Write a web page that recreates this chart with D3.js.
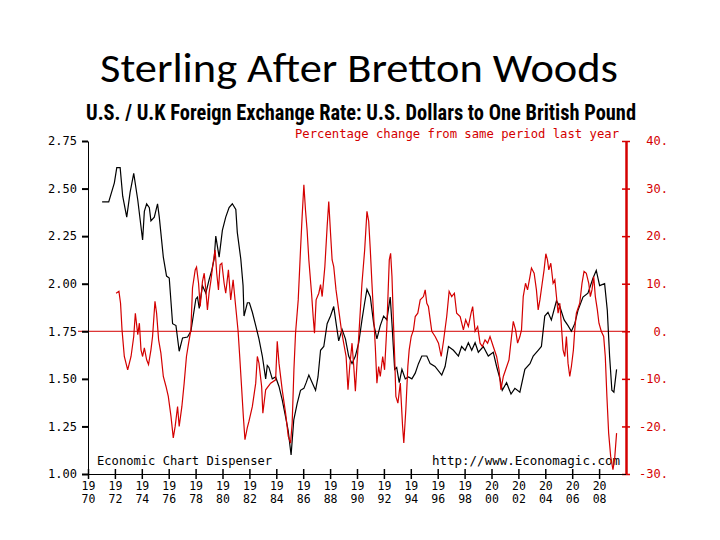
<!DOCTYPE html>
<html>
<head>
<meta charset="utf-8">
<script src="https://cdn.jsdelivr.net/npm/d3@7.9.0/dist/d3.min.js"></script>
<style>
  body { margin: 0; background: #fff; }
  svg { display: block; }
  .mono { font-family: "DejaVu Sans Mono", "Liberation Mono", monospace; }
</style>
</head>
<body>
<svg id="chart" width="720" height="540"></svg>
<script>
// exchange rate, US dollars per pound (left axis)
const rateData = [
  [1971.05, 2.43], [1971.54, 2.43], [1971.96, 2.53], [1972.14, 2.61], [1972.39, 2.61],
  [1972.58, 2.46], [1972.88, 2.35], [1973.13, 2.48], [1973.40, 2.58], [1973.70, 2.44],
  [1974.06, 2.23], [1974.19, 2.38], [1974.36, 2.42], [1974.56, 2.40], [1974.68, 2.33],
  [1974.93, 2.35], [1975.17, 2.42], [1975.30, 2.35], [1975.60, 2.14], [1975.84, 2.04],
  [1976.04, 2.03], [1976.29, 1.79], [1976.54, 1.78], [1976.78, 1.645], [1977.03, 1.715],
  [1977.40, 1.72], [1977.65, 1.75], [1978.02, 1.92], [1978.14, 1.93], [1978.27, 1.87],
  [1978.51, 1.99], [1978.76, 1.95], [1979.00, 2.02], [1979.20, 2.07], [1979.38, 2.13],
  [1979.50, 2.25], [1979.75, 2.14], [1979.99, 2.28], [1980.24, 2.35], [1980.49, 2.40],
  [1980.73, 2.42], [1980.99, 2.39], [1981.10, 2.27], [1981.36, 2.13], [1981.53, 1.99],
  [1981.60, 1.83], [1981.85, 1.90], [1982.00, 1.90], [1982.22, 1.85], [1982.47, 1.78],
  [1982.71, 1.71], [1982.96, 1.62], [1983.21, 1.50], [1983.33, 1.57], [1983.45, 1.56],
  [1983.70, 1.50], [1983.95, 1.51], [1984.20, 1.46], [1984.44, 1.39], [1984.69, 1.30],
  [1984.88, 1.23], [1985.10, 1.10], [1985.30, 1.285], [1985.55, 1.37], [1985.80, 1.44],
  [1986.05, 1.45], [1986.22, 1.48], [1986.42, 1.52], [1986.67, 1.48], [1986.92, 1.44],
  [1987.10, 1.51], [1987.29, 1.65], [1987.53, 1.67], [1987.78, 1.79], [1988.03, 1.83],
  [1988.27, 1.88], [1988.45, 1.79], [1988.64, 1.70], [1988.89, 1.76], [1989.14, 1.71],
  [1989.38, 1.62], [1989.63, 1.58], [1989.88, 1.62], [1990.13, 1.69], [1990.37, 1.81],
  [1990.57, 1.90], [1990.74, 1.97], [1990.99, 1.93], [1991.24, 1.79], [1991.48, 1.71],
  [1991.73, 1.78], [1991.98, 1.83], [1992.22, 1.81], [1992.47, 1.93], [1992.60, 1.79],
  [1992.80, 1.55], [1992.95, 1.56], [1993.14, 1.48], [1993.34, 1.55], [1993.59, 1.50],
  [1993.83, 1.51], [1994.08, 1.50], [1994.33, 1.53], [1994.57, 1.58], [1994.82, 1.62],
  [1995.19, 1.62], [1995.44, 1.58], [1995.80, 1.565], [1996.30, 1.52], [1996.55, 1.565],
  [1996.80, 1.67], [1997.17, 1.65], [1997.54, 1.62], [1997.78, 1.67], [1998.04, 1.65],
  [1998.28, 1.69], [1998.53, 1.65], [1998.78, 1.69], [1999.02, 1.64], [1999.39, 1.67],
  [1999.76, 1.62], [2000.13, 1.64], [2000.38, 1.565], [2000.63, 1.50], [2000.80, 1.44],
  [2001.12, 1.48], [2001.45, 1.42], [2001.74, 1.45], [2002.11, 1.43], [2002.48, 1.55],
  [2002.86, 1.58], [2003.10, 1.62], [2003.47, 1.65], [2003.71, 1.67], [2003.96, 1.83],
  [2004.20, 1.85], [2004.45, 1.81], [2004.83, 1.91], [2005.08, 1.88], [2005.40, 1.81],
  [2005.69, 1.78], [2005.94, 1.75], [2006.19, 1.79], [2006.43, 1.86], [2006.80, 1.93],
  [2007.17, 1.95], [2007.55, 2.03], [2007.79, 2.07], [2008.04, 1.99], [2008.41, 2.00],
  [2008.61, 1.86], [2008.78, 1.62], [2008.95, 1.44], [2009.10, 1.43], [2009.30, 1.55]
];

// percent change from same period last year (right axis)
const pctData = [
  [1972.09, 8.0], [1972.30, 8.4], [1972.42, 5.9], [1972.53, 0.3], [1972.70, -5.3],
  [1972.95, -8.1], [1973.20, -5.3], [1973.40, -1.1], [1973.52, 3.8], [1973.70, -0.7],
  [1973.82, 1.7], [1973.94, -3.9], [1974.06, -5.3], [1974.19, -3.5], [1974.36, -6.0],
  [1974.50, -7.0], [1974.68, -3.9], [1974.80, -1.1], [1974.98, 6.3], [1975.10, 3.8],
  [1975.25, -1.8], [1975.42, -4.6], [1975.60, -9.5], [1975.80, -11.6], [1975.97, -13.7],
  [1976.17, -17.9], [1976.34, -22.4], [1976.48, -20.0], [1976.66, -15.8], [1976.78, -20.0],
  [1976.98, -15.8], [1977.15, -10.9], [1977.32, -5.3], [1977.48, -2.5], [1977.65, 0.3],
  [1977.77, 9.1], [1977.97, 12.9], [1978.07, 13.5], [1978.22, 10.1], [1978.34, 5.2],
  [1978.51, 10.5], [1978.64, 12.2], [1978.76, 8.7], [1978.88, 4.5], [1979.00, 8.0],
  [1979.13, 10.5], [1979.30, 14.3], [1979.45, 17.1], [1979.57, 12.2], [1979.70, 8.7],
  [1979.82, 14.0], [1979.95, 14.3], [1980.12, 10.1], [1980.24, 8.0], [1980.44, 12.9],
  [1980.61, 6.6], [1980.79, 10.8], [1980.98, 5.2], [1981.16, 0], [1981.28, -5.3],
  [1981.43, -12.3], [1981.55, -17.9], [1981.67, -22.8], [1981.84, -20.3], [1981.97, -18.9],
  [1982.22, -15.8], [1982.47, -10.9], [1982.59, -5.3], [1982.71, -6.7], [1982.91, -11.6],
  [1983.00, -17.2], [1983.21, -12.3], [1983.58, -10.9], [1983.95, -10.2], [1984.07, -2.1],
  [1984.20, -6.7], [1984.44, -12.3], [1984.69, -17.2], [1984.89, -22.1], [1985.06, -23.5],
  [1985.18, -19.3], [1985.31, -8.1], [1985.43, -0.4], [1985.63, 6.6], [1985.80, 17.1],
  [1985.92, 24.1], [1986.05, 30.8], [1986.17, 25.5], [1986.29, 21.3], [1986.42, 15.0],
  [1986.62, 8.0], [1986.74, 3.1], [1986.84, -0.4], [1986.96, 6.6], [1987.16, 8.0],
  [1987.29, 9.8], [1987.41, 7.3], [1987.61, 13.6], [1987.78, 22.0], [1987.90, 27.3],
  [1988.03, 20.7], [1988.15, 15.0], [1988.27, 13.6], [1988.44, 8.7], [1988.64, 4.5],
  [1988.84, 0.3], [1989.01, -2.5], [1989.19, -5.3], [1989.33, -12.3], [1989.46, -7.4],
  [1989.63, -2.5], [1989.76, -7.4], [1989.88, -12.6], [1990.00, -6.7], [1990.13, -1.1],
  [1990.25, 4.5], [1990.37, 10.1], [1990.57, 17.1], [1990.74, 25.2], [1990.87, 23.1],
  [1990.99, 17.1], [1991.11, 10.1], [1991.24, 3.1], [1991.36, -3.2], [1991.48, -10.9],
  [1991.61, -7.4], [1991.73, -9.5], [1991.91, -5.3], [1992.05, -8.1], [1992.22, 1.0],
  [1992.40, 15.0], [1992.50, 16.4], [1992.60, 11.5], [1992.72, 1.0], [1992.80, -5.3],
  [1992.89, -13.7], [1993.04, -15.1], [1993.22, -10.9], [1993.39, -20.0], [1993.48, -23.5],
  [1993.63, -16.5], [1993.78, -7.4], [1993.88, -3.9], [1994.03, -1.1], [1994.20, 0.3],
  [1994.33, 3.1], [1994.52, 3.8], [1994.70, 6.6], [1994.94, 7.3], [1995.07, 8.7],
  [1995.19, 5.9], [1995.31, 5.2], [1995.56, 0], [1995.81, -1.1], [1996.06, -2.5],
  [1996.26, -5.3], [1996.43, -2.1], [1996.67, 3.1], [1996.85, 8.4], [1997.04, 7.3],
  [1997.24, 8.0], [1997.41, 3.8], [1997.67, 3.1], [1997.91, 0.3], [1998.08, 2.4],
  [1998.28, 1.0], [1998.48, 3.8], [1998.60, 5.2], [1998.78, 0], [1998.97, 1.0],
  [1999.15, -2.5], [1999.32, -3.2], [1999.52, -1.8], [1999.71, -2.5], [1999.89, -1.1],
  [2000.13, -3.2], [2000.38, -5.3], [2000.56, -8.1], [2000.70, -12.3], [2000.88, -9.5],
  [2001.05, -8.1], [2001.30, -6.0], [2001.49, -1.1], [2001.62, 2.1], [2001.79, 0.3],
  [2001.94, -2.5], [2002.11, -1.1], [2002.23, 0.3], [2002.36, 7.3], [2002.53, 10.1],
  [2002.68, 8.7], [2002.86, 11.5], [2002.97, 13.3], [2003.17, 12.2], [2003.34, 8.7],
  [2003.47, 4.5], [2003.60, 6.6], [2003.77, 10.1], [2003.91, 12.9], [2004.04, 16.3],
  [2004.16, 15.0], [2004.26, 12.9], [2004.41, 14.3], [2004.58, 10.1], [2004.71, 10.8],
  [2004.83, 7.3], [2004.95, 3.8], [2005.08, 5.9], [2005.20, 1.0], [2005.32, -3.9],
  [2005.45, -5.3], [2005.57, -1.1], [2005.69, -6.7], [2005.82, -9.5], [2005.94, -7.4],
  [2006.09, -3.9], [2006.19, 0.3], [2006.31, 3.8], [2006.56, 5.9], [2006.73, 10.1],
  [2006.88, 12.6], [2007.05, 12.2], [2007.23, 10.1], [2007.35, 7.3], [2007.47, 8.7],
  [2007.60, 11.5], [2007.72, 7.3], [2007.87, 4.5], [2007.99, 1.7], [2008.16, 0],
  [2008.34, -1.1], [2008.46, -5.3], [2008.58, -13.7], [2008.71, -21.4], [2008.86, -26.3],
  [2009.03, -29.1], [2009.15, -27.0], [2009.30, -21.4]
];

const yearTicks = d3.range(1970, 2009, 2);
const rateTicks = [1.00, 1.25, 1.50, 1.75, 2.00, 2.25, 2.50, 2.75];
const pctTicks = [-30, -20, -10, 0, 10, 20, 30, 40];

const red = '#d40000';
const svg = d3.select('#chart');

// scales
const x = d3.scaleLinear().domain([1970, 2010]).range([88, 626]);
const yL = d3.scaleLinear().domain([1, 2.75]).range([474, 141]);
const yR = d3.scaleLinear().domain([-30, 40]).range([474, 141]);

// page heading
svg.append('text')
  .attr('x', 359).attr('y', 82)
  .attr('text-anchor', 'middle')
  .attr('font-family', 'Carlito, Calibri, Lato, sans-serif')
  .attr('font-size', 40)
  .attr('textLength', 518).attr('lengthAdjust', 'spacingAndGlyphs')
  .text('Sterling After Bretton Woods');

// chart title
svg.append('text')
  .attr('x', 86).attr('y', 120)
  .attr('font-family', '"Liberation Sans Narrow", "Roboto Condensed", "Liberation Sans", sans-serif')
  .attr('font-weight', 'bold')
  .attr('font-size', 22)
  .attr('textLength', 550).attr('lengthAdjust', 'spacingAndGlyphs')
  .text('U.S. / U.K Foreign Exchange Rate: U.S. Dollars to One British Pound');

svg.append('text')
  .attr('class', 'mono')
  .attr('x', 295).attr('y', 138)
  .attr('font-size', 12)
  .attr('fill', red)
  .attr('textLength', 324).attr('lengthAdjust', 'spacingAndGlyphs')
  .text('Percentage change from same period last year');

// zero line of percent change
svg.append('line')
  .attr('x1', 78).attr('x2', x.range()[1])
  .attr('y1', yR(0)).attr('y2', yR(0))
  .attr('stroke', red).attr('stroke-width', 1);

// left axis
const leftAxis = svg.append('g')
  .attr('transform', `translate(${x.range()[0]},0)`)
  .call(d3.axisLeft(yL).tickValues(rateTicks).tickFormat(d3.format('.2f'))
    .tickSize(6).tickSizeOuter(0).tickPadding(5));
leftAxis.select('.domain').attr('stroke', '#000');
leftAxis.selectAll('.tick line').attr('stroke-width', 2);
leftAxis.selectAll('text')
  .attr('class', 'mono').attr('font-size', 12).attr('fill', '#000');

// right axis
const rightAxis = svg.append('g')
  .attr('transform', `translate(${x.range()[1]},0)`)
  .call(d3.axisRight(yR).tickValues(pctTicks).tickFormat(d => d + '.')
    .tickSize(4).tickSizeOuter(0));
rightAxis.select('.domain').attr('stroke', red).attr('stroke-width', 2.5);
rightAxis.selectAll('.tick line').attr('stroke', red).attr('x1', -4).attr('stroke-width', 1.5);
rightAxis.selectAll('text')
  .attr('class', 'mono').attr('font-size', 12).attr('fill', red)
  .attr('text-anchor', 'end').attr('x', 42);

// bottom axis
const bottomAxis = svg.append('g')
  .attr('transform', `translate(0,${yL.range()[0]})`)
  .call(d3.axisBottom(x).tickValues(yearTicks).tickFormat('').tickSize(5).tickSizeOuter(0));
bottomAxis.select('.domain').attr('d', `M83,0.5H${x.range()[1]}`).attr('stroke', '#000');
bottomAxis.selectAll('.tick line').attr('y1', -5).attr('stroke-width', 1.5);
const tickText = bottomAxis.selectAll('.tick').append('text')
  .attr('class', 'mono').attr('font-size', 11.5).attr('fill', '#000')
  .attr('text-anchor', 'middle');
tickText.append('tspan').attr('x', 0).attr('y', 16).text(d => String(d).slice(0, 2));
tickText.append('tspan').attr('x', 0).attr('y', 29).text(d => String(d).slice(2));

// footer labels inside plot
svg.append('text')
  .attr('class', 'mono').attr('x', 97).attr('y', 465).attr('font-size', 12)
  .attr('textLength', 175).attr('lengthAdjust', 'spacingAndGlyphs')
  .text('Economic Chart Dispenser');
svg.append('text')
  .attr('class', 'mono').attr('x', 432).attr('y', 465).attr('font-size', 12)
  .attr('textLength', 188).attr('lengthAdjust', 'spacingAndGlyphs')
  .text('http://www.Economagic.com');

// series
const rateLine = d3.line().x(d => x(d[0])).y(d => yL(d[1]));
const pctLine = d3.line().x(d => x(d[0])).y(d => yR(d[1]));

svg.append('path')
  .datum(rateData)
  .attr('d', rateLine)
  .attr('fill', 'none').attr('stroke', '#000').attr('stroke-width', 1.2);

svg.append('path')
  .datum(pctData)
  .attr('d', pctLine)
  .attr('fill', 'none').attr('stroke', red).attr('stroke-width', 1.2);
</script>
</body>
</html>
